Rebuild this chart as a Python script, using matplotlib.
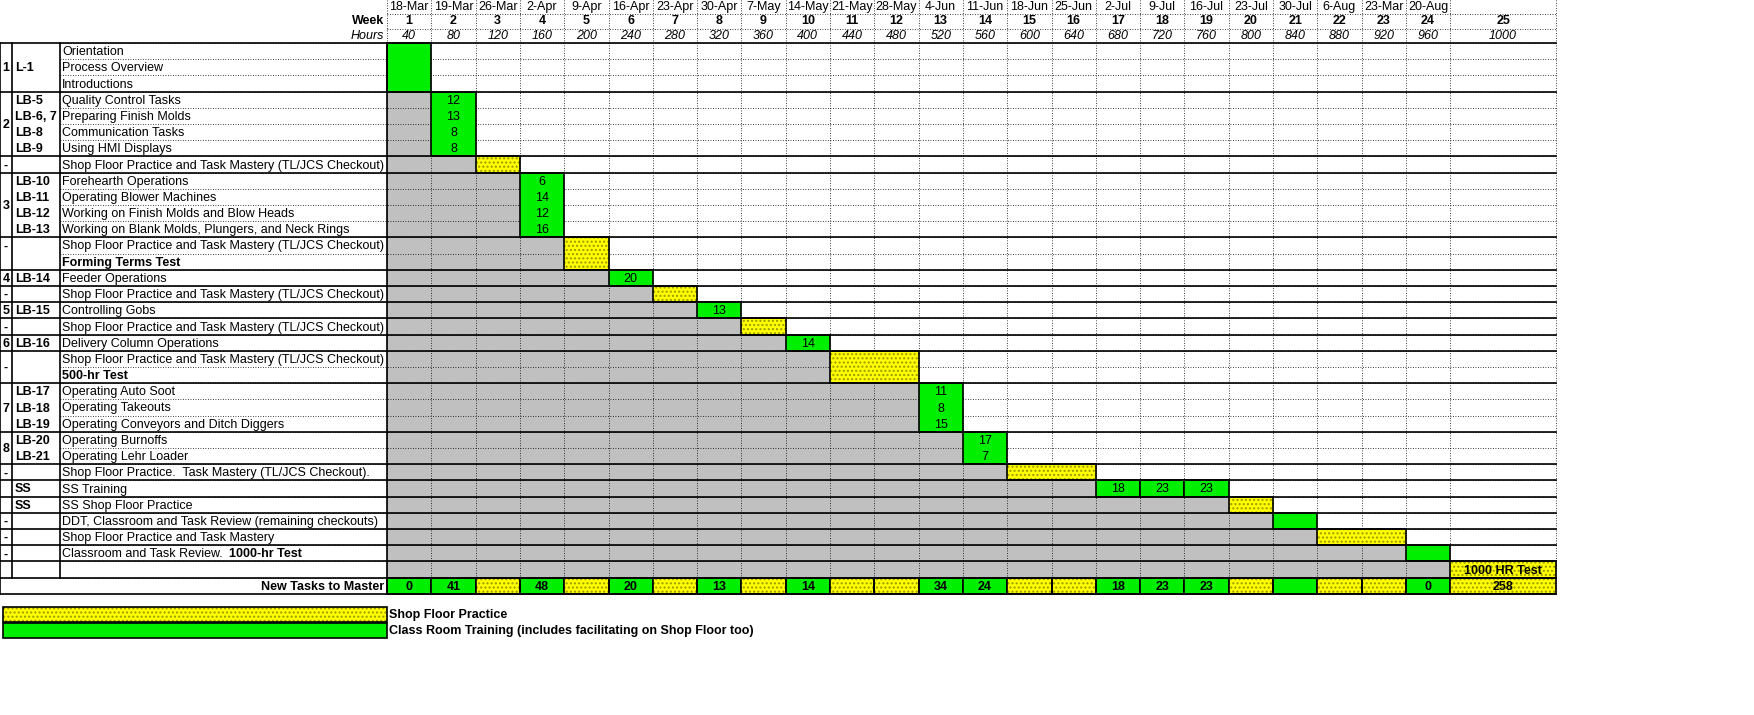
import matplotlib
matplotlib.use("Agg")
import matplotlib.pyplot as plt
from matplotlib.patches import Rectangle

plt.rcParams['font.family'] = ['Liberation Sans', 'DejaVu Sans']

dates = ["18-Mar","19-Mar","26-Mar","2-Apr","9-Apr","16-Apr","23-Apr","30-Apr","7-May","14-May",
         "21-May","28-May","4-Jun","11-Jun","18-Jun","25-Jun","2-Jul","9-Jul","16-Jul","23-Jul",
         "30-Jul","6-Aug","23-Mar","20-Aug",""]
weeks = list(range(1, 26))
hours = [40*w for w in weeks]

tasks = ["Orientation","Process Overview","Introductions","Quality Control Tasks","Preparing Finish Molds",
         "Communication Tasks","Using HMI Displays","Shop Floor Practice and Task Mastery (TL/JCS Checkout)",
         "Forehearth Operations","Operating Blower Machines","Working on Finish Molds and Blow Heads",
         "Working on Blank Molds, Plungers, and Neck Rings","Shop Floor Practice and Task Mastery (TL/JCS Checkout)",
         "Forming Terms Test","Feeder Operations","Shop Floor Practice and Task Mastery (TL/JCS Checkout)",
         "Controlling Gobs","Shop Floor Practice and Task Mastery (TL/JCS Checkout)","Delivery Column Operations",
         "Shop Floor Practice and Task Mastery (TL/JCS Checkout)","500-hr Test","Operating Auto Soot",
         "Operating Takeouts","Operating Conveyors and Ditch Diggers","Operating Burnoffs","Operating Lehr Loader",
         "Shop Floor Practice.  Task Mastery (TL/JCS Checkout).","SS Training","SS Shop Floor Practice",
         "DDT, Classroom and Task Review (remaining checkouts)","Shop Floor Practice and Task Mastery",
         "Classroom and Task Review. ",""]
bold_tasks = {13, 20}
bold_suffix = {31: "1000-hr Test"}
codes = {1:"L-1",3:"LB-5",4:"LB-6, 7",5:"LB-8",6:"LB-9",8:"LB-10",9:"LB-11",10:"LB-12",11:"LB-13",
         14:"LB-14",16:"LB-15",18:"LB-16",21:"LB-17",22:"LB-18",23:"LB-19",24:"LB-20",25:"LB-21",27:"SS",28:"SS"}
sections = [(0,2,"1"),(3,6,"2"),(7,7,"-"),(8,11,"3"),(12,12,"-"),(14,14,"4"),(15,15,"-"),(16,16,"5"),
            (17,17,"-"),(18,18,"6"),(19,20,"-"),(21,23,"7"),(24,25,"8"),(26,26,"-"),(29,29,"-"),(30,30,"-"),(31,31,"-")]
groups = [(0,2),(3,6),(7,7),(8,11),(12,13),(14,14),(15,15),(16,16),(17,17),(18,18),(19,20),(21,23),(24,25),
          (26,26),(27,27),(28,28),(29,29),(30,30),(31,31),(32,32)]
blocks = [(0,2,1,1,"g",[]),(3,6,2,2,"g",["12","13","8","8"]),(7,7,3,3,"y",[]),
          (8,11,4,4,"g",["6","14","12","16"]),(12,13,5,5,"y",[]),(14,14,6,6,"g",["20"]),
          (15,15,7,7,"y",[]),(16,16,8,8,"g",["13"]),(17,17,9,9,"y",[]),(18,18,10,10,"g",["14"]),
          (19,20,11,12,"y",[]),(21,23,13,13,"g",["11","8","15"]),(24,25,14,14,"g",["17","7"]),
          (26,26,15,16,"y",[]),(27,27,17,17,"g",["18"]),(27,27,18,18,"g",["23"]),(27,27,19,19,"g",["23"]),
          (28,28,20,20,"y",[]),(29,29,21,21,"g",[]),(30,30,22,23,"y",[]),(31,31,24,24,"g",[]),
          (32,32,25,25,"y",["1000 HR Test"])]
totals = ["0","41","","48","","20","","13","","14","","","34","24","","","18","23","23","","","","","0","258"]
total_kind = ["g","g","y","g","y","g","y","g","y","g","y","y","g","g","y","y","g","g","g","y","g","y","y","g","y"]

GREEN = "#00ee00"; YEL = "#ffff00"; GRAY = "#c0c0c0"
fig = plt.figure(figsize=(17.54, 7.15), dpi=100)
ax = fig.add_axes([0, 0, 1, 1]); ax.set_xlim(0, 1754); ax.set_ylim(715, 0); ax.axis("off")
FS = 9
xB, xC, xW = 12, 60, 387
cw = 44.3
def wx(w): return xW + (w-1)*cw
def wr(w): return wx(w)+cw if w < 25 else 1556
top = 43; rh = 16.2
def ry(r): return top + r*rh
ntask = len(tasks)
ytot = ry(ntask); ybot = ytot + rh

def cell(x0, x1, y0, y1, kind):
    if kind == "g":
        ax.add_patch(Rectangle((x0,y0), x1-x0, y1-y0, fc=GREEN, ec="black", lw=1.2, zorder=3))
    elif kind == "y":
        ax.add_patch(Rectangle((x0,y0), x1-x0, y1-y0, fc=YEL, ec="#999900", lw=0, hatch="....", zorder=3))
        ax.add_patch(Rectangle((x0,y0), x1-x0, y1-y0, fc="none", ec="black", lw=1.2, zorder=3.5))

for (r0, r1, w0, w1, k, lab) in blocks:
    if w0 > 1:
        ax.add_patch(Rectangle((xW, ry(r0)), wx(w0)-xW, ry(r1+1)-ry(r0), fc=GRAY, ec="none", zorder=1))
for w in range(1, 26):
    ax.plot([wx(w)]*2, [0, ybot], color="black", lw=0.6, ls=(0,(1,2)), zorder=2)
ax.plot([1556]*2, [0, ybot], color="black", lw=0.6, ls=(0,(1,2)), zorder=2)
for r in range(ntask+1):
    ax.plot([xC, 1556], [ry(r)]*2, color="black", lw=0.6, ls=(0,(1,2)), zorder=2)
ax.plot([xW, 1556], [14]*2, color="black", lw=0.6, ls=(0,(1,2)), zorder=2)
ax.plot([xW, 1556], [29]*2, color="black", lw=0.6, ls=(0,(1,2)), zorder=2)
for (g0, g1) in groups:
    ax.plot([0, 1556], [ry(g0)]*2, color="black", lw=1.2, zorder=4)
ax.plot([0, 1556], [ytot]*2, color="black", lw=1.2, zorder=4)
ax.plot([0, 1556], [ybot]*2, color="black", lw=1.2, zorder=4)
for x in (0, xB, xC, xW):
    ax.plot([x, x], [top, ytot], color="black", lw=1.2, zorder=4)
ax.plot([0, 0], [ytot, ybot], color="black", lw=1.2, zorder=4)
ax.plot([xW, xW], [ytot, ybot], color="black", lw=1.2, zorder=4)

for (r0, r1, w0, w1, k, lab) in blocks:
    cell(wx(w0), wr(w1), ry(r0), ry(r1+1), k)
    for i, t in enumerate(lab):
        cx = (wx(w0)+wr(w1))/2
        ax.text(cx, ry(r0+i)+rh/2+1, t, ha="center", va="center", fontsize=FS,
                fontweight="bold" if k == "y" else "normal", zorder=5)
for i, w in enumerate(weeks):
    cx = (wx(w)+wr(w))/2
    ax.text(cx, 7, dates[i], ha="center", va="center", fontsize=FS)
    ax.text(cx, 21.5, str(w), ha="center", va="center", fontsize=FS, fontweight="bold")
    ax.text(cx, 36, str(hours[i]), ha="center", va="center", fontsize=FS, style="italic")
    cell(wx(w), wr(w), ytot, ybot, total_kind[i])
    ax.text(cx, ytot+rh/2+1, totals[i], ha="center", va="center", fontsize=FS, fontweight="bold", zorder=5)
ax.text(xW-3, 21.5, "Week", ha="right", va="center", fontsize=FS, fontweight="bold")
ax.text(xW-3, 36, "Hours", ha="right", va="center", fontsize=FS, style="italic")
ax.text(xW-3, ytot+rh/2+1, "New Tasks to Master", ha="right", va="center", fontsize=FS, fontweight="bold")
fig.canvas.draw()
rend = fig.canvas.get_renderer()
for r, t in enumerate(tasks):
    tt = ax.text(xC+2, ry(r)+rh/2+1, t, ha="left", va="center", fontsize=FS,
                 fontweight="bold" if r in bold_tasks else "normal", zorder=5)
    if r in bold_suffix:
        bb = tt.get_window_extent(renderer=rend)
        ax.annotate(bold_suffix[r], xy=(1, 0.5), xycoords=tt, xytext=(2, 0), textcoords="offset points",
                    ha="left", va="center", fontsize=FS, fontweight="bold", zorder=5)
for r, c in codes.items():
    ax.text(xB+3, ry(r)+rh/2+1, c, ha="left", va="center", fontsize=FS, fontweight="bold", zorder=5)
for (r0, r1, lab) in sections:
    ax.text(6, (ry(r0)+ry(r1+1))/2+1, lab, ha="center", va="center", fontsize=FS, fontweight="bold", zorder=5)

ly = 607
cell(3, xW, ly, ly+15, "y"); cell(3, xW, ly+16, ly+31, "g")
ax.text(xW+2, ly+8, "Shop Floor Practice", ha="left", va="center", fontsize=FS, fontweight="bold")
ax.text(xW+2, ly+24, "Class Room Training (includes facilitating on Shop Floor too)", ha="left", va="center",
        fontsize=FS, fontweight="bold")
fig.savefig("out.png", dpi=100)
